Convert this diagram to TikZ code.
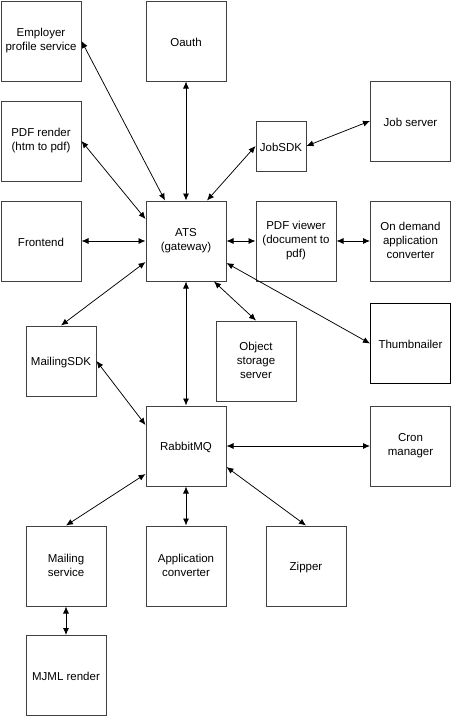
\documentclass[tikz,border=0pt]{standalone}
\usepackage{fontspec}
\setmainfont{Liberation Sans}
\usetikzlibrary{arrows.meta,calc}
\newcommand\myboxstrut{\rule[-2pt]{0pt}{14pt}}
\begin{document}
\begin{tikzpicture}[x=1pt,y=-1pt,
  box/.style={draw=black!75, line width=1pt, minimum width=80pt, minimum height=80pt,
    inner sep=0pt, align=center, font=\fontsize{11.5}{14}\selectfont,
    execute at begin node=\myboxstrut, execute at end node=\myboxstrut},
  conn/.style={line width=0.75pt, {Latex[length=7pt,width=6pt]}-{Latex[length=7pt,width=6pt]}}]
\useasboundingbox (0,0) rectangle (451,716);
\node[box] (emp) at (41,41) {Employer\\profile service};
\node[box] (oauth) at (186,41) {Oauth};
\node[box] (pdfr) at (41,141) {PDF render\\(htm to pdf)};
\node[box, minimum width=50pt, minimum height=50pt] (jobsdk) at (281,146) {JobSDK};
\node[box] (jobsrv) at (410.5,121) {Job server};
\node[box] (front) at (41,241) {Frontend};
\node[box] (ats) at (186,241) {ATS\\(gateway)};
\node[box] (pdfv) at (296,241) {PDF viewer\\(document to\\pdf)};
\node[box] (ondem) at (410.5,241) {On demand\\application\\converter};
\node[box, draw=black] (thumb) at (410.5,343.5) {Thumbnailer};
\node[box, minimum width=70pt, minimum height=70pt] (mailsdk) at (61,361) {MailingSDK};
\node[box] (objst) at (256,361) {Object\\storage\\server};
\node[box] (rabbit) at (186,446) {RabbitMQ};
\node[box] (cron) at (410.5,446) {Cron\\manager};
\node[box] (mailsvc) at (66,566) {Mailing\\service};
\node[box] (appconv) at (186,566) {Application\\converter};
\node[box] (zipper) at (306,566) {Zipper};
\node[box] (mjml) at (66,675.5) {MJML render};

\draw[conn] (emp.east) -- ($(ats.north)+(-21,0)$);
\draw[conn] (oauth.south) -- (ats.north);
\draw[conn] (pdfr.east) -- ($(ats.west)+(0,-22)$);
\draw[conn] ($(ats.north)+(21,0)$) -- (jobsdk.west);
\draw[conn] (jobsdk.east) -- (jobsrv.west);
\draw[conn] (front.east) -- (ats.west);
\draw[conn] (ats.east) -- (pdfv.west);
\draw[conn] (pdfv.east) -- (ondem.west);
\draw[conn] ($(ats.east)+(0,22)$) -- (thumb.west);
\draw[conn] ($(ats.south)+(28,0)$) -- (objst.north);
\draw[conn] ($(ats.west)+(0,21)$) -- (mailsdk.north);
\draw[conn] (ats.south) -- (rabbit.north);
\draw[conn] (mailsdk.east) -- ($(rabbit.west)+(0,-21)$);
\draw[conn] (rabbit.east) -- (cron.west);
\draw[conn] ($(rabbit.west)+(0,28)$) -- (mailsvc.north);
\draw[conn] (rabbit.south) -- (appconv.north);
\draw[conn] ($(rabbit.east)+(0,21)$) -- (zipper.north);
\draw[conn] (mailsvc.south) -- (mjml.north);
\end{tikzpicture}
\end{document}
